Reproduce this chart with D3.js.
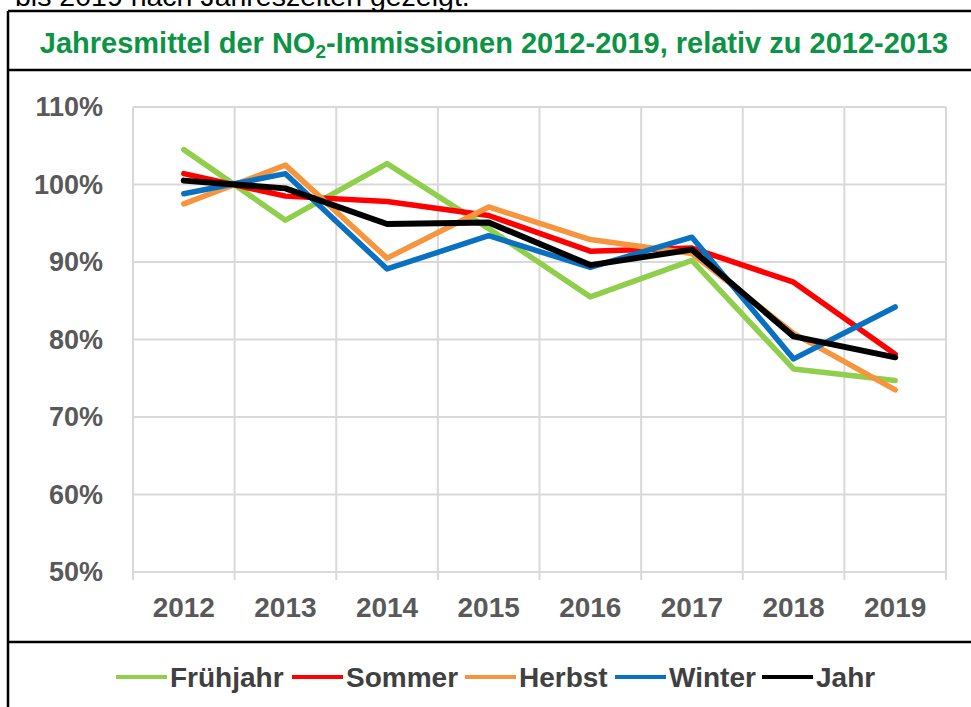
<!DOCTYPE html>
<html>
<head>
<meta charset="utf-8">
<script src="https://cdn.jsdelivr.net/npm/d3@7"></script>
<style>
  body { margin: 0; background: #fff; }
  svg { display: block; font-family: "Liberation Sans", Arial, sans-serif; }
</style>
</head>
<body>
<div id="chart"></div>
<script>
const years = ["2012", "2013", "2014", "2015", "2016", "2017", "2018", "2019"];
const yTicks = [50, 60, 70, 80, 90, 100, 110];

const fruehjahr = [104.5, 95.4, 102.7, 94.3, 85.5, 90.2, 76.2, 74.7];
const sommer = [101.4, 98.5, 97.8, 96.0, 91.4, 91.8, 87.4, 78.1];
const herbst = [97.5, 102.5, 90.5, 97.1, 92.9, 91.1, 80.8, 73.5];
const winter = [98.8, 101.4, 89.1, 93.4, 89.3, 93.2, 77.5, 84.2];
const jahr = [100.5, 99.5, 94.9, 95.1, 89.6, 91.6, 80.4, 77.7];

const seriesNames = ["Frühjahr", "Sommer", "Herbst", "Winter", "Jahr"];
const seriesValues = [fruehjahr, sommer, herbst, winter, jahr];
const colors = ["#8fcf4c", "#ff0000", "#f7953f", "#0a70c2", "#000000"];

const width = 971, height = 707;
const plot = { left: 133, right: 946, top: 107, bottom: 572 };

const svg = d3
  .select("#chart")
  .append("svg")
  .attr("width", width)
  .attr("height", height);

// text cut off above the box (as in the source page)
svg
  .append("text")
  .attr("x", 15)
  .attr("y", 6)
  .attr("font-size", 28.5)
  .attr("fill", "#000")
  .text("bis 2019 nach Jahreszeiten gezeigt.");

// frame
const frame = svg.append("g").attr("stroke", "#000").attr("stroke-width", 2.5);
frame.append("line").attr("x1", 8).attr("x2", width).attr("y1", 11).attr("y2", 11);
frame.append("line").attr("x1", 8).attr("x2", 8).attr("y1", 11).attr("y2", height);
frame.append("line").attr("x1", 8).attr("x2", width).attr("y1", 70).attr("y2", 70);
frame.append("line").attr("x1", 8).attr("x2", width).attr("y1", 642).attr("y2", 642);

// title
const title = svg
  .append("text")
  .attr("x", 494)
  .attr("y", 53)
  .attr("text-anchor", "middle")
  .attr("font-size", 29)
  .attr("font-weight", "bold")
  .attr("fill", "#0b9444");
title.append("tspan").text("Jahresmittel der NO");
title.append("tspan").attr("font-size", 19).attr("dy", 5).text("2");
title.append("tspan").attr("dy", -5).text("-Immissionen 2012-2019, relativ zu 2012-2013");

const x = d3.scaleBand().domain(years).range([plot.left, plot.right]).padding(0);
const y = d3.scaleLinear().domain([50, 110]).range([plot.bottom, plot.top]);

// gridlines
const grid = svg.append("g").attr("stroke", "#d9d9d9").attr("stroke-width", 2);
grid
  .selectAll(".hgrid")
  .data(yTicks)
  .join("line")
  .attr("x1", plot.left)
  .attr("x2", plot.right)
  .attr("y1", (d) => y(d))
  .attr("y2", (d) => y(d));

const bounds = years.map((d) => x(d)).concat([plot.right]);
grid
  .selectAll(".vgrid")
  .data(bounds)
  .join("line")
  .attr("x1", (d) => d)
  .attr("x2", (d) => d)
  .attr("y1", plot.top)
  .attr("y2", plot.bottom + 8);

// y labels
svg
  .append("g")
  .selectAll("text")
  .data(yTicks)
  .join("text")
  .attr("x", 103)
  .attr("y", (d) => y(d))
  .attr("dy", "0.35em")
  .attr("text-anchor", "end")
  .attr("font-size", 27)
  .attr("font-weight", "bold")
  .attr("fill", "#595959")
  .text((d) => d + "%");

// x labels
svg
  .append("g")
  .selectAll("text")
  .data(years)
  .join("text")
  .attr("x", (d) => x(d) + x.bandwidth() / 2)
  .attr("y", 617)
  .attr("text-anchor", "middle")
  .attr("font-size", 28)
  .attr("font-weight", "bold")
  .attr("fill", "#595959")
  .text((d) => d);

// lines
const line = d3
  .line()
  .x((d, i) => x(years[i]) + x.bandwidth() / 2)
  .y((d) => y(d));

svg
  .append("g")
  .selectAll("path")
  .data(seriesValues)
  .join("path")
  .attr("fill", "none")
  .attr("stroke", (d, i) => colors[i])
  .attr("stroke-width", (d, i) => (i === 4 ? 6 : 5.5))
  .attr("stroke-linejoin", "round")
  .attr("stroke-linecap", "round")
  .attr("d", line);

// legend
const legendX = [116, 292, 465, 615, 762];
const legend = svg
  .append("g")
  .selectAll("g")
  .data(seriesNames)
  .join("g")
  .attr("transform", (d, i) => "translate(" + legendX[i] + ",677)");

legend
  .append("line")
  .attr("x1", 0)
  .attr("x2", 51)
  .attr("stroke", (d, i) => colors[i])
  .attr("stroke-width", 4);

legend
  .append("text")
  .attr("x", 54)
  .attr("dy", "0.35em")
  .attr("font-size", 28)
  .attr("font-weight", "bold")
  .attr("fill", "#404040")
  .text((d) => d);
</script>
</body>
</html>
